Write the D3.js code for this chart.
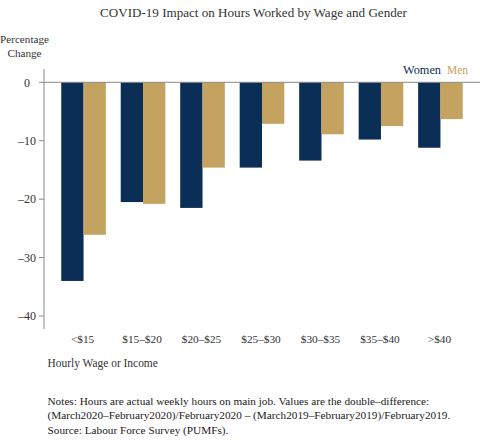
<!DOCTYPE html>
<html>
<head>
<meta charset="utf-8">
<script src="https://cdn.jsdelivr.net/npm/d3@7"></script>
<style>
  body { margin: 0; background: #fff; }
</style>
</head>
<body>
<svg id="chart" width="480" height="442" font-family="'Liberation Serif', 'DejaVu Serif', serif"></svg>
<script>
let wages = ["<$15", "$15–$20", "$20–$25", "$25–$30", "$30–$35", "$35–$40", ">$40"];
let women = [-34.0, -20.5, -21.5, -14.6, -13.4, -9.8, -11.2];
let men = [-26.1, -20.8, -14.6, -7.1, -8.9, -7.5, -6.3];
let yTicks = [0, -10, -20, -30, -40];
let genders = ["Women", "Men"];
let colors = ["#0b2e56", "#c4a360"];

let svg = d3.select("#chart");

// shrink/grow a text's font so it takes the width the reference shows
function fit(sel, w) {
  sel.each(function () {
    let len = this.getComputedTextLength();
    let fs = parseFloat(this.style.fontSize);
    if (len > 0) this.style.fontSize = (fs * w / len).toFixed(2) + "px";
  });
  return sel;
}

let x = d3.scaleBand().domain(wages).range([44, 480]).paddingInner(0.25).paddingOuter(0.29);
let x1 = d3.scaleBand().domain(genders).range([0, x.bandwidth()]);
let y = d3.scaleLinear().domain([0, -40]).range([82.3, 316]);

let rows = wages.map((w, i) => ({ wage: w, Women: women[i], Men: men[i] }));

// bars
let group = svg.selectAll("g.grp")
  .data(rows)
  .enter()
  .append("g")
  .attr("class", "grp")
  .attr("transform", d => "translate(" + x(d.wage) + ",0)");

group.selectAll("rect")
  .data(d => genders.map(g => ({ g: g, v: d[g] })))
  .enter()
  .append("rect")
  .attr("x", d => x1(d.g))
  .attr("y", y(0))
  .attr("width", x1.bandwidth())
  .attr("height", d => y(d.v) - y(0))
  .attr("fill", (d, i) => colors[i]);

// zero line
svg.append("line")
  .attr("x1", 44).attr("x2", 480)
  .attr("y1", y(0)).attr("y2", y(0))
  .attr("stroke", "#8a8a8a").attr("stroke-width", 1);

// y axis
svg.append("line")
  .attr("x1", 44).attr("x2", 44)
  .attr("y1", 69).attr("y2", 329)
  .attr("stroke", "#8a8a8a").attr("stroke-width", 1);

let tk = svg.selectAll("g.tick")
  .data(yTicks)
  .enter()
  .append("g")
  .attr("class", "tick")
  .attr("transform", d => "translate(0," + y(d) + ")");
tk.append("line").attr("x1", 39).attr("x2", 44).attr("stroke", "#8a8a8a");
tk.append("text")
  .text(d => d === 0 ? "0" : "–" + Math.abs(d))
  .attr("x", 27).attr("dy", "0.35em")
  .attr("text-anchor", "middle")
  .style("font-size", "12px").attr("fill", "#333");

// x labels
let xl = svg.selectAll("text.xl")
  .data(wages)
  .enter()
  .append("text")
  .attr("class", "xl")
  .text(d => d)
  .attr("x", d => x(d) + x.bandwidth() / 2 - 1)
  .attr("y", 339).attr("dy", "0.35em")
  .attr("text-anchor", "middle")
  .style("font-size", "11px").attr("fill", "#333");
fit(xl.filter((d, i) => i === 1), 39.5);
xl.style("font-size", svg.select("text.xl:nth-of-type(1)").empty() ? "11px" : xl.nodes()[1].style.fontSize);

// title and axis titles
fit(svg.append("text").text("COVID-19 Impact on Hours Worked by Wage and Gender")
  .attr("x", 253.5).attr("y", 12).attr("dy", "0.35em").attr("text-anchor", "middle")
  .style("font-size", "14px").attr("fill", "#333"), 307);

let pc = svg.append("text").text("Percentage")
  .attr("x", 24.5).attr("y", 39).attr("dy", "0.35em").attr("text-anchor", "middle")
  .style("font-size", "12px").attr("fill", "#333");
fit(pc, 49);
svg.append("text").text("Change")
  .attr("x", 24.5).attr("y", 53).attr("dy", "0.35em").attr("text-anchor", "middle")
  .style("font-size", pc.style("font-size")).attr("fill", "#333");

fit(svg.append("text").text("Hourly Wage or Income")
  .attr("x", 47.5).attr("y", 363).attr("dy", "0.35em")
  .style("font-size", "12px").attr("fill", "#333"), 110.5);

// legend
fit(svg.append("text").text("Women")
  .attr("x", 441).attr("y", 70).attr("dy", "0.35em").attr("text-anchor", "end")
  .style("font-size", "13px").attr("fill", colors[0]), 38);
fit(svg.append("text").text("Men")
  .attr("x", 447).attr("y", 70).attr("dy", "0.35em")
  .style("font-size", "13px").attr("fill", colors[1]), 21);

// notes
let notes = [
  "Notes: Hours are actual weekly hours on main job. Values are the double–difference:",
  "(March2020–February2020)/February2020 – (March2019–February2019)/February2019.",
  "Source: Labour Force Survey (PUMFs)."
];
let nt = svg.selectAll("text.note")
  .data(notes)
  .enter()
  .append("text")
  .attr("class", "note")
  .text(d => d)
  .attr("x", 47.5)
  .attr("y", (d, i) => 401 + i * 14.5)
  .attr("dy", "0.35em")
  .style("font-size", "12px").attr("fill", "#222");
fit(nt.filter((d, i) => i === 1), 403);
nt.style("font-size", nt.nodes()[1].style.fontSize);
</script>
</body>
</html>
